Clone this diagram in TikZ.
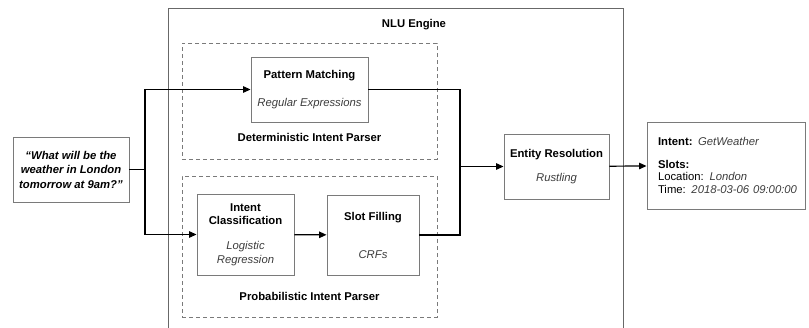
\documentclass[tikz,border=0pt]{standalone}
\usepackage{fontspec}
\setmainfont{Liberation Sans}
\usetikzlibrary{arrows.meta,positioning}
\definecolor{boxline}{HTML}{7A7A7A}
\definecolor{subtext}{HTML}{3C3C3C}
\newcommand{\impl}[1]{\textcolor{subtext}{\textit{#1}}}

\begin{document}
\begin{tikzpicture}[x=1pt, y=-1pt, font=\fontsize{11.3}{13.5}\selectfont,
	block/.style={draw=boxline, line width=0.9pt, align=center, inner sep=0pt},
	group/.style={draw=boxline, line width=0.8pt, dash pattern=on 4pt off 3pt, inner sep=0pt},
	flow/.style={line width=1.2pt, -{Triangle[length=7.5pt, width=6.5pt]}},
	link/.style={line width=1.2pt}]
	\useasboundingbox (0,0) rectangle (809,327);

	% engine frame, runs off the bottom
	\draw[boxline!85!black, line width=0.9pt] (168,330) |- (623,8) -- (623,330);
	\node[font=\fontsize{11.3}{13.5}\selectfont\bfseries] (engine) at (414,25) {NLU Engine};

	% parsers
	\node[group, minimum width=255, minimum height=116] (det) at (309.5,101) {};
	\node[group, minimum width=255, minimum height=141] (prob) at (309.5,246.5) {};
	\node[font=\fontsize{11.3}{13.5}\selectfont\bfseries] (detlabel) at (309.5,137) {Deterministic Intent Parser};
	\node[font=\fontsize{11.3}{13.5}\selectfont\bfseries] (problabel) at (309.5,296) {Probabilistic Intent Parser};

	\node[block, minimum width=116, minimum height=65, font=\fontsize{11.3}{14.5}\selectfont\bfseries\itshape] (query) at (71,169.5) {“What will be the\\weather in London\\tomorrow at 9am?”};
	\node[block, minimum width=117, minimum height=65] (pm) at (309.5,89.5) {\textbf{Pattern Matching}\\[14.5pt]\impl{Regular Expressions}};
	\node[block, minimum width=97, minimum height=81] (ic) at (245.5,234.5) {\textbf{Intent}\\\textbf{Classification}\\[11.5pt]\impl{Logistic}\\\impl{Regression}};
	\node[block, minimum width=92, minimum height=80] (sf) at (373,235) {\textbf{Slot Filling}\\[24.5pt]\impl{CRFs}};
	\node[block, minimum width=105, minimum height=65] (er) at (556.5,166.5) {\textbf{Entity Resolution}\\[10.5pt]\impl{Rustling}};
	\node[block, align=left, text width=146, inner xsep=6pt, minimum height=87, font=\fontsize{11.3}{12.3}\selectfont] (out) at (726,165.5) {\hspace*{5pt}\textbf{Intent:} \impl{GetWeather}\\[10.5pt]\hspace*{5pt}\textbf{Slots:}\\\hspace*{5pt}Location: \impl{London}\\\hspace*{5pt}Time: \impl{2018-03-06 09:00:00}};

	\coordinate (split) at (145,169.5);
	\coordinate (merge) at (460,166.5);

	\draw[link] (query.east) -- (split);
	\draw[flow] (split) |- (pm.west);
	\draw[flow] (split) |- (ic.west);
	\draw[flow] (ic) -- (sf);
	\draw[link] (pm.east) -| (merge);
	\draw[link] (sf.east) -| (merge);
	\draw[flow] (merge) -- (er.west);
	\draw[flow] (er) -- (out);
\end{tikzpicture}
\end{document}
